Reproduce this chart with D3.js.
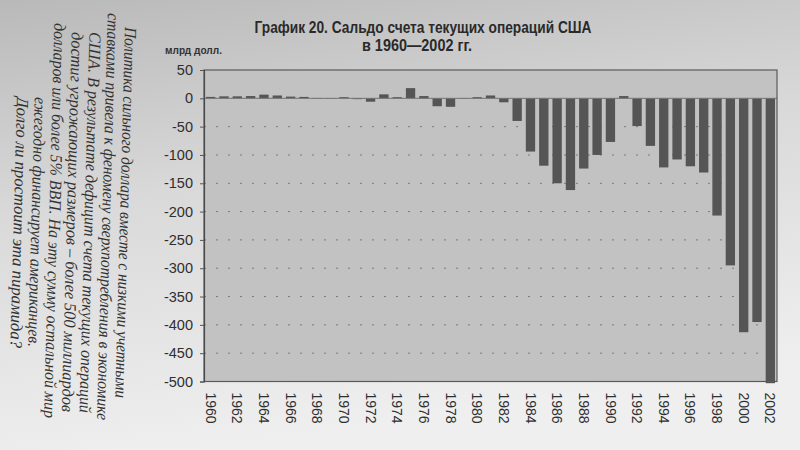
<!DOCTYPE html>
<html><head><meta charset="utf-8">
<script src="https://cdn.jsdelivr.net/npm/d3@7/dist/d3.min.js"></script>
<style>html,body{margin:0;padding:0;background:#d6d6d6;}svg{display:block;}</style>
</head><body>
<svg id="c" width="800" height="450"></svg>
<script>
const years = [1960,1961,1962,1963,1964,1965,1966,1967,1968,1969,1970,1971,1972,1973,1974,1975,1976,1977,1978,1979,1980,1981,1982,1983,1984,1985,1986,1987,1988,1989,1990,1991,1992,1993,1994,1995,1996,1997,1998,1999,2000,2001,2002];
const balance = [2.5,3.5,3.5,4,6.5,5,3,2.5,0.6,0.5,2,-1.5,-6,7,2,18,4,-14,-15,-0.5,2,5,-7,-40,-94,-119,-150,-162,-124,-100,-77,4,-49,-84,-122,-108,-120,-131,-207,-295,-413,-395,-503];
const yTicks = [50,0,-50,-100,-150,-200,-250,-300,-350,-400,-450,-500];
const xTickLabels = [1960,1962,1964,1966,1968,1970,1972,1974,1976,1978,1980,1982,1984,1986,1988,1990,1992,1994,1996,1998,2000,2002];
const titleLines = ["График 20. Сальдо счета текущих операций США","в 1960—2002 гг."];
const unitLabel = "млрд долл.";
const sideText = [
 "Политика сильного доллара вместе с низкими учетными",
 "ставками привела к феномену сверхпотребления в экономике",
 "США. В результате дефицит счета текущих операций",
 "достиг угрожающих размеров – более 500 миллиардов",
 "долларов или более 5% ВВП. На эту сумму остальной мир",
 "ежегодно финансирует американцев.",
 "Долго ли простоит эта пирамида?"
];
const sideStart = [27,13,32,32,23,97,97];
const sideLen = [371,407,381,380,395,250,251];

const svg = d3.select("#c");
const defs = svg.append("defs");
const g1 = defs.append("linearGradient").attr("id","bg").attr("x1","0").attr("y1","0").attr("x2","0.25").attr("y2","1");
g1.append("stop").attr("offset","0").attr("stop-color","#b9b9b9");
g1.append("stop").attr("offset","0.45").attr("stop-color","#d9d9d9");
g1.append("stop").attr("offset","1").attr("stop-color","#efefef");
svg.append("rect").attr("width",800).attr("height",450).attr("fill","url(#bg)");

const L=204, R=777, T=70, B=381.5;
const x = d3.scaleBand().domain(years).range([L,R]).paddingInner(0.3).paddingOuter(0.15);
const y = d3.scaleLinear().domain([-500,50]).range([B,T]);

svg.append("rect").attr("x",L).attr("y",T).attr("width",R-L).attr("height",B-T).attr("fill","#c2c2c2");

svg.append("g").selectAll("line").data(yTicks.filter(v=>v<0 && v>-500)).join("line")
  .attr("x1",L).attr("x2",R).attr("y1",d=>y(d)).attr("y2",d=>y(d))
  .attr("stroke","#7a7a7a").attr("stroke-width",1).attr("stroke-dasharray","2,10");

svg.append("g").selectAll("rect").data(years).join("rect")
  .attr("x",d=>x(d)).attr("width",x.bandwidth())
  .attr("y",(d,i)=>Math.min(y(0),y(balance[i])))
  .attr("height",(d,i)=>Math.abs(y(balance[i])-y(0)))
  .attr("fill","#555555");

svg.append("line").attr("x1",L).attr("x2",R).attr("y1",y(0)).attr("y2",y(0)).attr("stroke","#737373").attr("stroke-width",1);

svg.append("rect").attr("x",L).attr("y",T).attr("width",R-L).attr("height",B-T).attr("fill","none").attr("stroke","#5a5a5a").attr("stroke-width",1.2);

const ya = svg.append("g").attr("transform",`translate(${L},0)`)
  .call(d3.axisLeft(y).tickValues(yTicks).tickSize(4).tickPadding(7).tickFormat(d=>d));
ya.select(".domain").attr("stroke","#4a4a4a").attr("stroke-width",1.2);
ya.selectAll(".tick line").attr("stroke","#555");
ya.selectAll("text").attr("font-family","Liberation Sans, Arial, sans-serif").attr("font-size",14.5).attr("fill","#2f2f2f");

const xa = svg.append("g").attr("transform",`translate(0,${B})`)
  .call(d3.axisBottom(x).tickValues(xTickLabels).tickSize(0).tickFormat(d=>d));
xa.select(".domain").remove();
xa.selectAll(".tick text")
  .attr("transform","translate(0,11) rotate(90)")
  .attr("x",0).attr("y",0).attr("dy","0.35em")
  .attr("text-anchor","start")
  .attr("font-family","Liberation Sans, Arial, sans-serif").attr("font-size",14).attr("fill","#2f2f2f");

svg.append("text").attr("x",423).attr("y",33).attr("text-anchor","middle")
  .attr("font-family","Liberation Sans, Arial, sans-serif").attr("font-weight","bold").attr("font-size",16.5)
  .attr("fill","#2a2a2a").attr("textLength",337).attr("lengthAdjust","spacingAndGlyphs").text(titleLines[0]);
svg.append("text").attr("x",417).attr("y",51).attr("text-anchor","middle")
  .attr("font-family","Liberation Sans, Arial, sans-serif").attr("font-weight","bold").attr("font-size",16.5)
  .attr("fill","#2a2a2a").attr("textLength",110).attr("lengthAdjust","spacingAndGlyphs").text(titleLines[1]);
svg.append("text").attr("x",165).attr("y",54)
  .attr("font-family","Liberation Sans, Arial, sans-serif").attr("font-weight","bold").attr("font-size",11)
  .attr("fill","#333").attr("textLength",57).attr("lengthAdjust","spacingAndGlyphs").text(unitLabel);

const tilt = 0.026;
svg.append("g").selectAll("text").data(sideText).join("text")
  .attr("transform",(d,i)=>`translate(${125 - i*17.7 + (27 - sideStart[i])*tilt},${sideStart[i]}) rotate(91.5)`)
  .attr("font-family","Liberation Serif, 'DejaVu Serif', serif").attr("font-style","italic").attr("font-size",17)
  .attr("fill","#333333")
  .attr("textLength",(d,i)=>sideLen[i]).attr("lengthAdjust","spacingAndGlyphs")
  .text(d=>d);
</script>
</body></html>
